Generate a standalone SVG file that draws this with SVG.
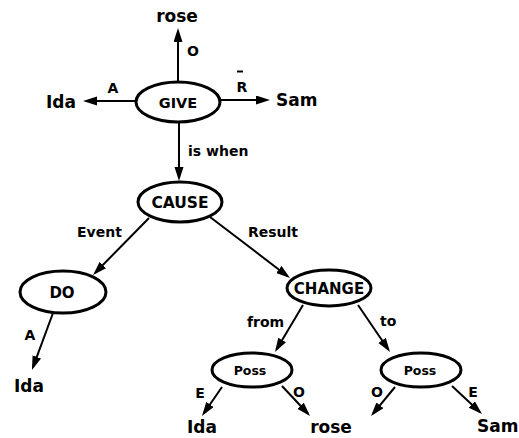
<svg xmlns="http://www.w3.org/2000/svg" width="519" height="438" viewBox="0 0 519 438">
<style>
  .node ellipse { fill: #fff; stroke: #000; stroke-width: 3; }
  .ntxt { font-family: "DejaVu Sans", "Liberation Sans", sans-serif; font-weight: bold; fill: #000; text-anchor: middle; }
  .leaf { font-family: "DejaVu Sans", "Liberation Sans", sans-serif; font-weight: bold; font-size: 17px; fill: #000; }
  .lbl { font-family: "DejaVu Sans", "Liberation Sans", sans-serif; font-weight: bold; font-size: 14px; fill: #000; }
  .edge { stroke: #000; stroke-width: 2; fill: none; marker-end: url(#arr); }
</style>
<defs>
  <marker id="arr" markerUnits="userSpaceOnUse" markerWidth="16" markerHeight="10" refX="11" refY="4.5" orient="auto">
    <path d="M0,0 L14,4.5 L0,9 z" fill="#000"/>
  </marker>
</defs>
<rect width="519" height="438" fill="#fff"/>

<g id="connectors">
  <line class="edge" x1="178" y1="82" x2="178" y2="31"/>
  <line class="edge" x1="136" y1="101" x2="86" y2="101"/>
  <line class="edge" x1="220" y1="100" x2="267" y2="100"/>
  <line class="edge" x1="179" y1="122" x2="179" y2="178"/>
  <line class="edge" x1="149" y1="218" x2="95.2" y2="272.8"/>
  <line class="edge" x1="210" y1="217" x2="287.6" y2="276.2"/>
  <line class="edge" x1="53" y1="313" x2="33" y2="367.2"/>
  <line class="edge" x1="303" y1="305" x2="276.5" y2="349.5"/>
  <line class="edge" x1="358" y1="305" x2="388.3" y2="349.5"/>
  <line class="edge" x1="222" y1="387" x2="203.7" y2="413.5"/>
  <line class="edge" x1="282" y1="386" x2="308" y2="413.8"/>
  <line class="edge" x1="395" y1="387" x2="372.9" y2="413.8"/>
  <line class="edge" x1="452" y1="386" x2="479.8" y2="412"/>
</g>

<g id="edge-labels">
  <text class="lbl" x="187" y="56">O</text>
  <text class="lbl" x="113" y="93" text-anchor="middle">A</text>
  <text class="lbl" x="242" y="92" text-anchor="middle">R</text>
  <line x1="237" y1="71.5" x2="243" y2="71.5" stroke="#000" stroke-width="2"/>
  <text class="lbl" x="188" y="156" font-size="12.5">is when</text>
  <text class="lbl" x="77" y="237" font-size="14">Event</text>
  <text class="lbl" x="248" y="237" font-size="14">Result</text>
  <text class="lbl" x="30" y="340" text-anchor="middle">A</text>
  <text class="lbl" x="247" y="327" font-size="13">from</text>
  <text class="lbl" x="380" y="326" font-size="13">to</text>
  <text class="lbl" x="200" y="398" text-anchor="middle">E</text>
  <text class="lbl" x="299" y="397" text-anchor="middle">O</text>
  <text class="lbl" x="377" y="397" text-anchor="middle">O</text>
  <text class="lbl" x="473" y="397" text-anchor="middle">E</text>
</g>

<g id="node-give" class="node">
  <ellipse cx="178" cy="102" rx="42" ry="20"/>
  <text class="ntxt" x="178" y="107.5" font-size="14.5">GIVE</text>
</g>
<g id="node-cause" class="node">
  <ellipse cx="180" cy="202" rx="42" ry="20"/>
  <text class="ntxt" x="180" y="208" font-size="15.5">CAUSE</text>
</g>
<g id="node-do" class="node">
  <ellipse cx="63" cy="292" rx="43" ry="21"/>
  <text class="ntxt" x="62" y="297.5" font-size="15">DO</text>
</g>
<g id="node-change" class="node">
  <ellipse cx="329" cy="288" rx="42" ry="18"/>
  <text class="ntxt" x="329" y="293.5" font-size="15">CHANGE</text>
</g>
<g id="node-poss-from" class="node">
  <ellipse cx="252" cy="370" rx="40" ry="17"/>
  <text class="ntxt" x="250" y="375" font-size="12.5">Poss</text>
</g>
<g id="node-poss-to" class="node">
  <ellipse cx="421" cy="370" rx="40" ry="17"/>
  <text class="ntxt" x="420" y="375" font-size="12.5">Poss</text>
</g>

<g id="leaf-rose-top"><text class="leaf" x="177" y="22" text-anchor="middle">rose</text></g>
<g id="leaf-ida-top"><text class="leaf" x="61" y="108" text-anchor="middle">Ida</text></g>
<g id="leaf-sam-top"><text class="leaf" x="276" y="106">Sam</text></g>
<g id="leaf-ida-do"><text class="leaf" x="29" y="392" text-anchor="middle">Ida</text></g>
<g id="leaf-ida-poss"><text class="leaf" x="202" y="433" text-anchor="middle">Ida</text></g>
<g id="leaf-rose-poss"><text class="leaf" x="331" y="433" text-anchor="middle">rose</text></g>
<g id="leaf-sam-poss"><text class="leaf" x="477" y="432">Sam</text></g>
</svg>
